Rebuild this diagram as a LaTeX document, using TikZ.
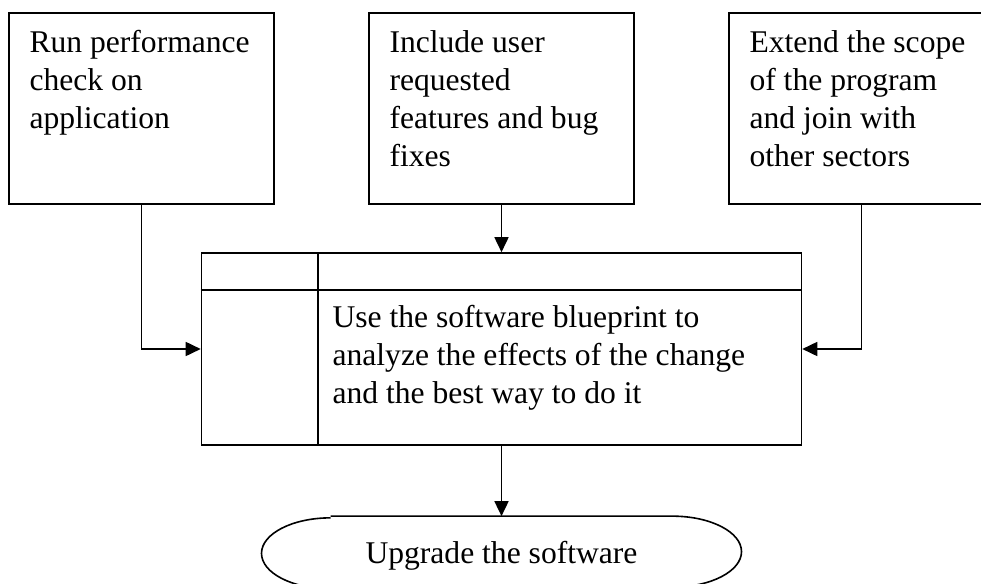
\documentclass[tikz,border=0pt]{standalone}
\usepackage{fontspec}
\setmainfont{Liberation Serif}
\usetikzlibrary{arrows.meta}
\hyphenpenalty=10000

\tikzset{
  taskbox/.style={draw, line width=1.6pt, text width=224pt, align=flush left,
    inner xsep=20.5pt, inner ysep=18pt, text height=22pt, text depth=133pt},
  elbow/.style={to path={|- (\tikztotarget) \tikztonodes}}
}

\begin{document}
\begin{tikzpicture}[->,>={Triangle[length=15pt,width=14pt]},line width=1.7pt,x=1pt,y=-1pt,
    node distance=360pt,font=\fontsize{31.6}{38}\selectfont]
  \useasboundingbox (0,0) rectangle (981,583);
  \node[taskbox] (run) at (141.5,108.5) {Run performance check on application};
  \node[taskbox] (inc) [right of = run] {Include user requested features and bug fixes};
  \node[taskbox] (ext) [right of = inc] {Extend the scope of the program and join with other sectors};
  \node[draw, line width=1.6pt, minimum width=600pt, minimum height=192pt, inner sep=0pt]
    (ana) [below of = inc, node distance=240.5pt] {};
  \node[text width=440pt, align=flush left, inner sep=0pt, anchor=base west] (anatext)
    at ([xshift=131pt,yshift=-75pt]ana.north west)
    {Use the software blueprint to analyze the effects of the change and the best way to do it};
  \node[minimum width=480pt, minimum height=71pt, inner sep=0pt, text height=28pt, text depth=7pt]
    (upg) [below of = ana, node distance=203.5pt] {Upgrade the software};
  % table lines in the blueprint box
  \draw[-, line width=2pt] ([yshift=-38pt]ana.north west) -- ([yshift=-38pt]ana.north east);
  \draw[-, line width=1.6pt] ([xshift=117pt]ana.north west) -- ([xshift=117pt]ana.south west);
  % terminal outline
  \draw[-, line width=1.6pt] ([xshift=-171pt]upg.north) -- ([xshift=171pt]upg.north)
    arc[start angle=90, end angle=-90, x radius=69pt, y radius=35.5pt]
    -- ([xshift=-171pt]upg.south)
    arc[start angle=270, end angle=90, x radius=69pt, y radius=35.5pt];
  \path
  (run) edge [elbow] (ana)
  (inc) edge (ana)
  (ext) edge [elbow] (ana)
  (ana) edge (upg)
  ;
\end{tikzpicture}
\end{document}
